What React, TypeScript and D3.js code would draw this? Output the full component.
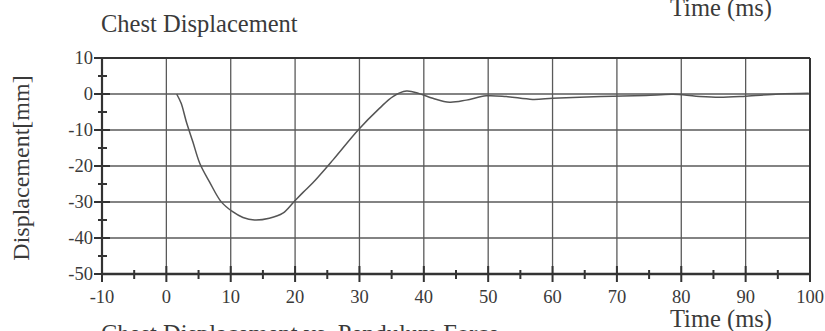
import React from "react";
import * as d3 from "d3";

const timeMs = [1.6, 2.3, 3.1, 4.1, 5.2, 6.7, 8.5, 10.3, 11.9, 13.7, 16.0, 18.1, 19.8, 21.2, 22.8, 25.9, 29.8, 33.1, 35.2, 37.3, 39.3, 41.4, 44.0, 46.6, 49.7, 52.8, 56.9, 60.0, 64.2, 69.4, 74.5, 78.7, 82.3, 85.9, 90.0, 95.2, 99.8];
const displacement = [0, -2.6, -7.7, -13.2, -19.3, -24.4, -29.9, -32.7, -34.3, -35.0, -34.5, -33.1, -30.0, -27.4, -24.6, -18.3, -10, -4, -0.7, 0.8, 0.1, -1.2, -2.3, -1.7, -0.5, -0.7, -1.5, -1.2, -0.9, -0.6, -0.4, -0.1, -0.6, -0.9, -0.6, 0, 0.2];
const xTicks = [-10, 0, 10, 20, 30, 40, 50, 60, 70, 80, 90, 100];
const yTicks = [10, 0, -10, -20, -30, -40, -50];
const xMinor = [-5, 5, 15, 25, 35, 45, 55, 65, 75, 85, 95];
const yMinor = [5, -5, -15, -25, -35, -45];

export default function App() {
  const x = d3.scaleLinear().domain([-10, 100]).range([102, 810]);
  const y = d3.scaleLinear().domain([-50, 10]).range([274, 58]);
  const pts = timeMs.map((t, i) => [t, displacement[i]] as [number, number]);
  const line = d3
    .line<[number, number]>()
    .x((d) => x(d[0]))
    .y((d) => y(d[1]))
    .curve(d3.curveCatmullRom.alpha(0.5));
  const font = "'Liberation Serif', 'Times New Roman', serif";
  const grid = "#5a5a5a";
  const axis = "#333";
  const txt = "#3a3a3a";
  return (
    <svg
      width={825}
      height={331}
      style={{ position: "absolute", left: 0, top: 0, background: "#fff" }}
      fontFamily={font}
    >
      <rect x={0} y={0} width={825} height={331} fill="#fff" />
      {/* titles */}
      <text x={670} y={16} fontSize={24.5} fill={txt}>Time (ms)</text>
      <text x={101} y={32} fontSize={24.5} fill={txt}>Chest Displacement</text>
      <text
        transform={`translate(29,168) rotate(-90)`}
        textAnchor="middle"
        fontSize={24}
        fill={txt}
      >
        Displacement[mm]
      </text>
      <text x={670} y={327} fontSize={24.5} fill={txt}>Time (ms)</text>
      <text x={101} y={342} fontSize={24.5} fill={txt}>Chest Displacement vs. Pendulum Force</text>

      {/* grid */}
      {xTicks.filter((t) => t > -10 && t < 100).map((t) => (
        <line key={"gx" + t} x1={x(t)} x2={x(t)} y1={y(10)} y2={y(-50)} stroke={grid} strokeWidth={1.3} />
      ))}
      {yTicks.filter((t) => t < 10 && t > -50).map((t) => (
        <line key={"gy" + t} x1={x(-10)} x2={x(100)} y1={y(t)} y2={y(t)} stroke={grid} strokeWidth={1.3} />
      ))}

      {/* frame */}
      <line x1={x(-10)} x2={x(100)} y1={y(10)} y2={y(10)} stroke={axis} strokeWidth={2.2} />
      <line x1={x(100)} x2={x(100)} y1={y(10)} y2={y(-50)} stroke={axis} strokeWidth={2} />
      <line x1={x(-10)} x2={x(-10)} y1={y(10)} y2={y(-50)} stroke={axis} strokeWidth={2.2} />
      <line x1={x(-10)} x2={x(100)} y1={y(-50)} y2={y(-50)} stroke={axis} strokeWidth={2.6} />

      {/* y ticks */}
      {yTicks.map((t) => (
        <g key={"yt" + t}>
          <line x1={x(-10) - 8} x2={x(-10) + 8} y1={y(t)} y2={y(t)} stroke={axis} strokeWidth={2} />
          <text x={x(-10) - 9} y={y(t)} dy="0.35em" textAnchor="end" fontSize={18.5} fill={txt}>
            {t}
          </text>
        </g>
      ))}
      {yMinor.map((t) => (
        <line key={"ym" + t} x1={x(-10) - 4} x2={x(-10) + 5} y1={y(t)} y2={y(t)} stroke={axis} strokeWidth={2} />
      ))}

      {/* x ticks */}
      {xTicks.map((t) => (
        <g key={"xt" + t}>
          <line x1={x(t)} x2={x(t)} y1={y(-50) - 8} y2={y(-50) + 8} stroke={axis} strokeWidth={2} />
          <text x={x(t)} y={303} textAnchor="middle" fontSize={18.5} fill={txt}>
            {t}
          </text>
        </g>
      ))}
      {xMinor.map((t) => (
        <line key={"xm" + t} x1={x(t)} x2={x(t)} y1={y(-50) - 4} y2={y(-50) + 5} stroke={axis} strokeWidth={2} />
      ))}

      {/* curve */}
      <path d={line(pts) || ""} fill="none" stroke="#555" strokeWidth={1.5} />
    </svg>
  );
}
